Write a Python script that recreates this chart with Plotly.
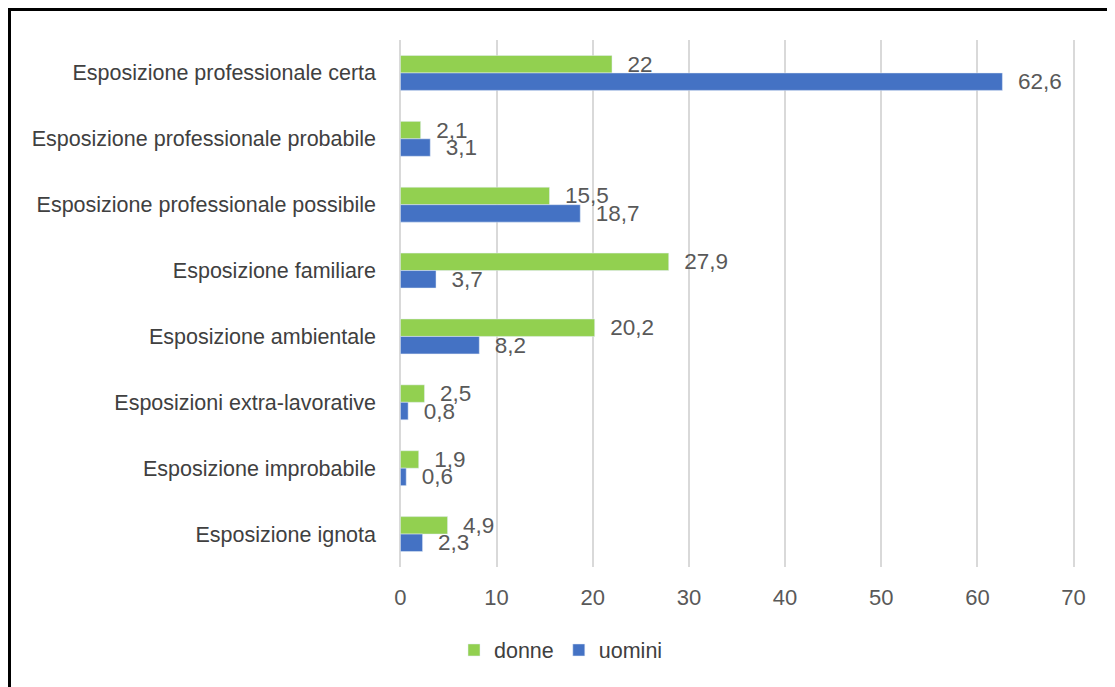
import plotly.graph_objects as go

categories = [
    "Esposizione professionale certa",
    "Esposizione professionale probabile",
    "Esposizione professionale possibile",
    "Esposizione familiare",
    "Esposizione ambientale",
    "Esposizioni extra-lavorative",
    "Esposizione improbabile",
    "Esposizione ignota",
]
donne = [22, 2.1, 15.5, 27.9, 20.2, 2.5, 1.9, 4.9]
uomini = [62.6, 3.1, 18.7, 3.7, 8.2, 0.8, 0.6, 2.3]
x_ticks = [0, 10, 20, 30, 40, 50, 60, 70]


def fmt(v):
    s = ("%g" % v)
    return s.replace(".", ",")


FONT = "Liberation Sans"
L, R, T, B = 391, 48, 32, 128
W, H = 1115, 687
PW = W - L - R
PH = H - T - B
PAD = "\u00a0\u00a0"

fig = go.Figure()
fig.add_trace(go.Bar(
    y=categories, x=donne, name="donne", orientation="h",
    marker=dict(color="#92D050"),
    text=[PAD + fmt(v) for v in donne], textposition="outside", constraintext="none",
    textfont=dict(family=FONT, size=22.5, color="#595959"), cliponaxis=False,
))
fig.add_trace(go.Bar(
    y=categories, x=uomini, name="uomini", orientation="h",
    marker=dict(color="#4472C4"),
    text=[PAD + fmt(v) for v in uomini], textposition="outside", constraintext="none",
    textfont=dict(family=FONT, size=22.5, color="#595959"), cliponaxis=False,
))

fig.update_layout(
    width=W, height=H,
    barmode="group", bargap=0.47, bargroupgap=0,
    paper_bgcolor="white", plot_bgcolor="white",
    margin=dict(l=L, r=R, t=T, b=B),
    font=dict(family=FONT, color="#404040"),
    legend=dict(orientation="h", x=(553 - L) / PW, xanchor="center",
                y=-83 / PH, yanchor="middle",
                font=dict(family=FONT, size=21.5, color="#404040"),
                itemwidth=30, traceorder="normal"),
    xaxis=dict(range=[-0.15, 70.15], tickvals=x_ticks, showgrid=True, gridcolor="#D9D9D9",
               gridwidth=2, zeroline=False, showline=False,
               tickfont=dict(family=FONT, size=22, color="#595959"), ticklabelstandoff=15),
    yaxis=dict(autorange="reversed", showgrid=False, zeroline=False, showline=False,
               tickfont=dict(family=FONT, size=21.5, color="#404040"), ticklabelstandoff=22),
    shapes=[
        dict(type="line", xref="paper", yref="paper",
             x0=(0 - L) / PW, x1=(W - L) / PW, y0=1 + (T - 1.5) / PH, y1=1 + (T - 1.5) / PH,
             line=dict(color="black", width=3)),
        dict(type="line", xref="paper", yref="paper",
             x0=(1.5 - L) / PW, x1=(1.5 - L) / PW, y0=1 + T / PH, y1=-B / PH,
             line=dict(color="black", width=3)),
    ],
)

fig.write_html("out.html")
